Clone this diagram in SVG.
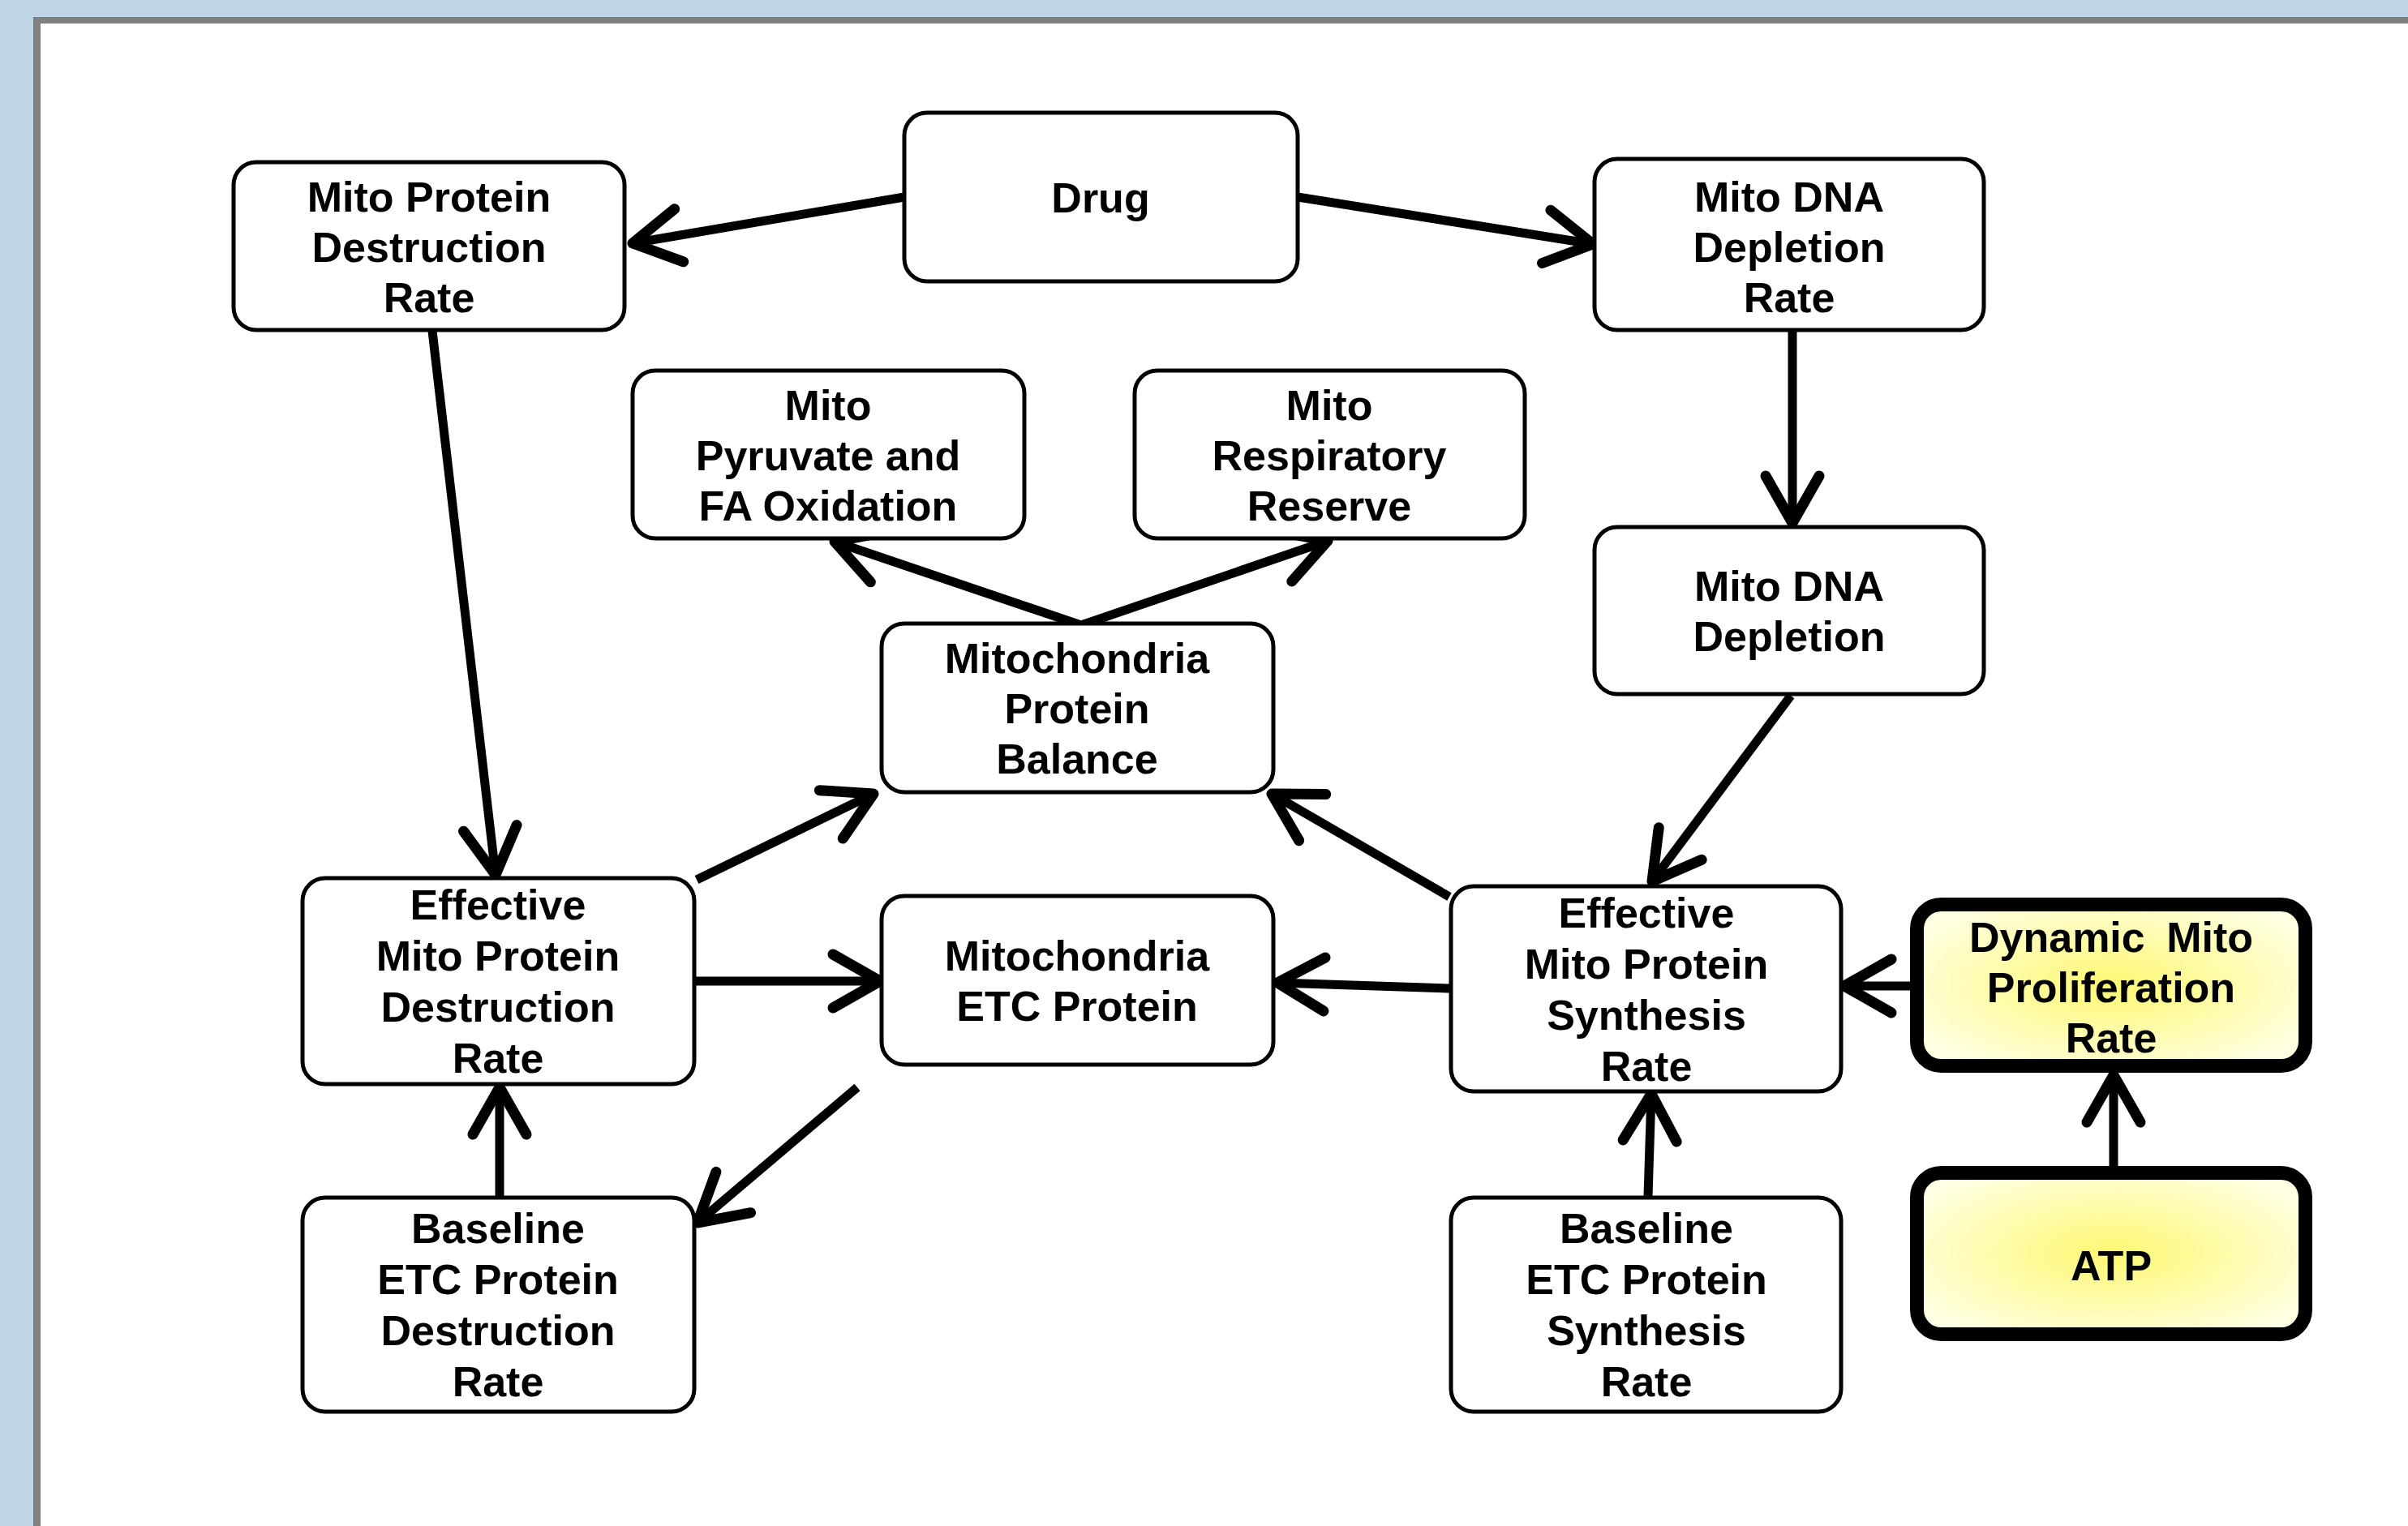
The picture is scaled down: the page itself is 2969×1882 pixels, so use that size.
<svg xmlns="http://www.w3.org/2000/svg" width="2969" height="1882" viewBox="0 0 2969 1882">
<style>
.box{fill:#ffffff;stroke:#000000;stroke-width:5}
.hl{fill:url(#yg);stroke:#000000;stroke-width:17}
.t{font-family:"Liberation Sans",Arimo,Arial,sans-serif;font-weight:700;font-size:52px;text-anchor:middle;fill:#000000}
.c{fill:none;stroke:#000000;stroke-width:11;marker-end:url(#ah)}
</style>
<defs>
<radialGradient id="yg" cx="50%" cy="50%" r="60%">
<stop offset="0" stop-color="#fdf872"/>
<stop offset="1" stop-color="#ffffe4"/>
</radialGradient>
<marker id="ah" markerUnits="userSpaceOnUse" orient="auto" refX="0" refY="0" markerWidth="150" markerHeight="150" viewBox="-75 -75 150 150" overflow="visible">
<path d="M -58 -33 L 0 0 L -58 33" fill="none" stroke="#000000" stroke-width="13" stroke-linecap="round" stroke-linejoin="round"/>
</marker>
</defs>
<rect x="0" y="0" width="2969" height="1882" fill="#c0d5e5"/>
<rect x="41" y="21" width="2928" height="1861" fill="#808080"/>
<rect x="50" y="29" width="2919" height="1853" fill="#ffffff"/>

<g id="connectors">
<line class="c" x1="1115" y1="243" x2="780" y2="300"/>
<line class="c" x1="1600" y1="243" x2="1964" y2="301"/>
<line class="c" x1="533" y1="408" x2="611" y2="1079"/>
<line class="c" x1="2210" y1="408" x2="2210" y2="645"/>
<line class="c" x1="2208" y1="858" x2="2037" y2="1087"/>
<line class="c" x1="1333" y1="771" x2="1029" y2="668"/>
<line class="c" x1="1333" y1="771" x2="1637" y2="667"/>
<line class="c" x1="859" y1="1085" x2="1077" y2="979"/>
<line class="c" x1="858" y1="1210" x2="1085" y2="1210"/>
<line class="c" x1="1787" y1="1106" x2="1568" y2="979"/>
<line class="c" x1="1787" y1="1219" x2="1575" y2="1212"/>
<line class="c" x1="1057" y1="1341" x2="860" y2="1508"/>
<line class="c" x1="616" y1="1475" x2="616" y2="1341"/>
<line class="c" x1="2032" y1="1475" x2="2036" y2="1349"/>
<line class="c" x1="2356" y1="1216" x2="2274" y2="1216"/>
<line class="c" x1="2606" y1="1440" x2="2606" y2="1326"/>
</g>

<g id="n-mpdr">
<rect class="box" x="288" y="200" width="482" height="207" rx="28"/>
<text class="t" x="529" y="261">Mito Protein</text>
<text class="t" x="529" y="323">Destruction</text>
<text class="t" x="529" y="385">Rate</text>
</g>
<g id="n-drug">
<rect class="box" x="1115" y="139" width="485" height="208" rx="28"/>
<text class="t" x="1357" y="262">Drug</text>
</g>
<g id="n-mddr">
<rect class="box" x="1966" y="196" width="480" height="211" rx="28"/>
<text class="t" x="2206" y="261">Mito DNA</text>
<text class="t" x="2206" y="323">Depletion</text>
<text class="t" x="2206" y="385">Rate</text>
</g>
<g id="n-pyr">
<rect class="box" x="780" y="457" width="483" height="207" rx="28"/>
<text class="t" x="1021" y="518">Mito</text>
<text class="t" x="1021" y="580">Pyruvate and</text>
<text class="t" x="1021" y="642">FA Oxidation</text>
</g>
<g id="n-resp">
<rect class="box" x="1399" y="457" width="481" height="207" rx="28"/>
<text class="t" x="1639" y="518">Mito</text>
<text class="t" x="1639" y="580">Respiratory</text>
<text class="t" x="1639" y="642">Reserve</text>
</g>
<g id="n-mdd">
<rect class="box" x="1966" y="650" width="480" height="206" rx="28"/>
<text class="t" x="2206" y="741">Mito DNA</text>
<text class="t" x="2206" y="803">Depletion</text>
</g>
<g id="n-bal">
<rect class="box" x="1087" y="769" width="483" height="208" rx="28"/>
<text class="t" x="1328" y="830">Mitochondria</text>
<text class="t" x="1328" y="892">Protein</text>
<text class="t" x="1328" y="954">Balance</text>
</g>
<g id="n-etc">
<rect class="box" x="1087" y="1105" width="483" height="208" rx="28"/>
<text class="t" x="1328" y="1197">Mitochondria</text>
<text class="t" x="1328" y="1259">ETC Protein</text>
</g>
<g id="n-empdr">
<rect class="box" x="373" y="1083" width="483" height="254" rx="28"/>
<text class="t" x="614" y="1134">Effective</text>
<text class="t" x="614" y="1197">Mito Protein</text>
<text class="t" x="614" y="1260">Destruction</text>
<text class="t" x="614" y="1323">Rate</text>
</g>
<g id="n-empsr">
<rect class="box" x="1789" y="1093" width="481" height="253" rx="28"/>
<text class="t" x="2030" y="1144">Effective</text>
<text class="t" x="2030" y="1207">Mito Protein</text>
<text class="t" x="2030" y="1270">Synthesis</text>
<text class="t" x="2030" y="1333">Rate</text>
</g>
<g id="n-dyn">
<rect class="hl" x="2363.5" y="1115.5" width="479" height="199" rx="30"/>
<text class="t" x="2603" y="1174" word-spacing="12">Dynamic Mito</text>
<text class="t" x="2603" y="1236">Proliferation</text>
<text class="t" x="2603" y="1298">Rate</text>
</g>
<g id="n-atp">
<rect class="hl" x="2363.5" y="1446.5" width="479" height="199" rx="30"/>
<text class="t" x="2603" y="1579">ATP</text>
</g>
<g id="n-bepdr">
<rect class="box" x="373" y="1477" width="483" height="264" rx="28"/>
<text class="t" x="614" y="1533">Baseline</text>
<text class="t" x="614" y="1596">ETC Protein</text>
<text class="t" x="614" y="1659">Destruction</text>
<text class="t" x="614" y="1722">Rate</text>
</g>
<g id="n-bepsr">
<rect class="box" x="1789" y="1477" width="481" height="264" rx="28"/>
<text class="t" x="2030" y="1533">Baseline</text>
<text class="t" x="2030" y="1596">ETC Protein</text>
<text class="t" x="2030" y="1659">Synthesis</text>
<text class="t" x="2030" y="1722">Rate</text>
</g>
</svg>
